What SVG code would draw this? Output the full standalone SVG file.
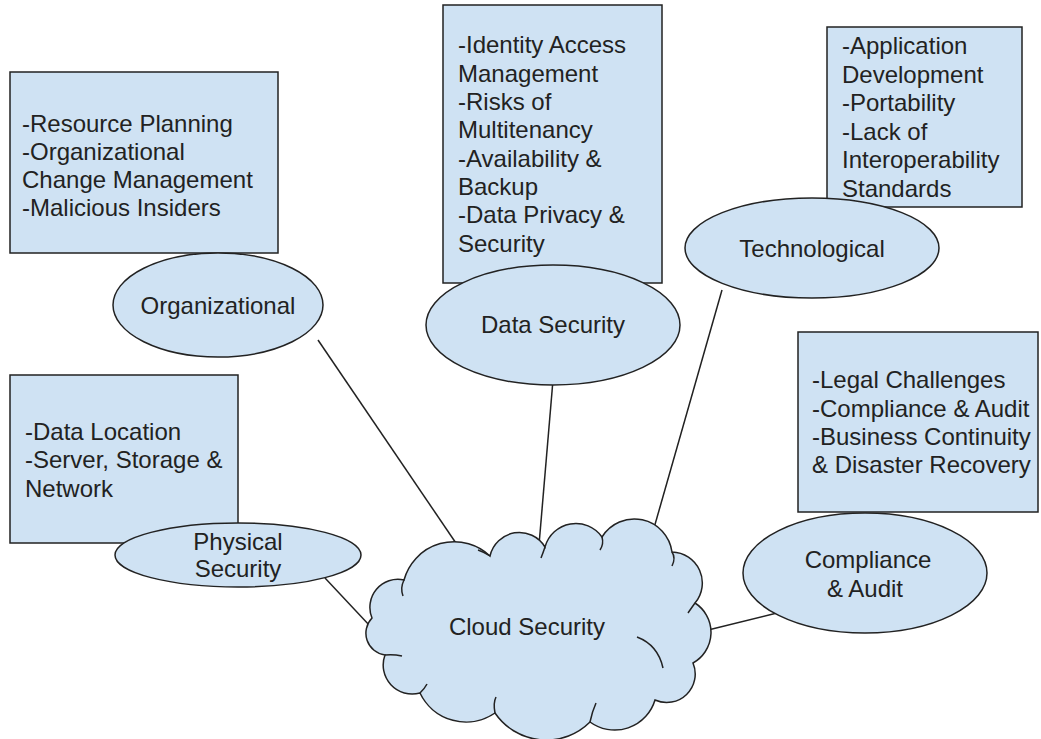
<svg xmlns="http://www.w3.org/2000/svg" width="1041" height="739" viewBox="0 0 1041 739">
<style>
.box{fill:#cfe2f3;stroke:#222;stroke-width:1.5}
.ell{fill:#cfe2f3;stroke:#222;stroke-width:1.5}
.t{font-family:"Liberation Sans",Arial,sans-serif;font-size:24px;fill:#222}
.c{text-anchor:middle}
.ln{stroke:#222;stroke-width:1.5;fill:none}
</style>
<rect width="1041" height="739" fill="#ffffff"/>
<g id="connectors">
<line class="ln" x1="318" y1="340" x2="462" y2="552"/>
<line class="ln" x1="553" y1="380" x2="539" y2="545"/>
<line class="ln" x1="722" y1="290" x2="652" y2="535"/>
<line class="ln" x1="325" y1="578" x2="385" y2="642"/>
<line class="ln" x1="777" y1="613" x2="700" y2="632"/>
</g>
<g id="organizational">
<rect class="box" x="10" y="72" width="268" height="181"/>
<text class="t" x="22" y="132">-Resource Planning</text>
<text class="t" x="22" y="160">-Organizational</text>
<text class="t" x="22" y="188">Change Management</text>
<text class="t" x="22" y="216">-Malicious Insiders</text>
<ellipse class="ell" cx="218" cy="305" rx="105" ry="52"/>
<text class="t c" x="218" y="314">Organizational</text>
</g>
<g id="data-security">
<rect class="box" x="443" y="5" width="219" height="278"/>
<text class="t" x="458" y="53">-Identity Access</text>
<text class="t" x="458" y="82">Management</text>
<text class="t" x="458" y="110">-Risks of</text>
<text class="t" x="458" y="138">Multitenancy</text>
<text class="t" x="458" y="167">-Availability &amp;</text>
<text class="t" x="458" y="195">Backup</text>
<text class="t" x="458" y="223">-Data Privacy &amp;</text>
<text class="t" x="458" y="252">Security</text>
<ellipse class="ell" cx="553" cy="325" rx="127" ry="60"/>
<text class="t c" x="553" y="333">Data Security</text>
</g>
<g id="technological">
<rect class="box" x="827" y="27" width="195" height="180"/>
<text class="t" x="842" y="54">-Application</text>
<text class="t" x="842" y="83">Development</text>
<text class="t" x="842" y="111">-Portability</text>
<text class="t" x="842" y="140">-Lack of</text>
<text class="t" x="842" y="168">Interoperability</text>
<text class="t" x="842" y="197">Standards</text>
<ellipse class="ell" cx="812" cy="248" rx="127" ry="50"/>
<text class="t c" x="812" y="257">Technological</text>
</g>
<g id="physical-security">
<rect class="box" x="10" y="375" width="228" height="168"/>
<text class="t" x="25" y="440">-Data Location</text>
<text class="t" x="25" y="468">-Server, Storage &amp;</text>
<text class="t" x="25" y="497">Network</text>
<ellipse class="ell" cx="238" cy="555" rx="123" ry="32"/>
<text class="t c" x="238" y="550">Physical</text>
<text class="t c" x="238" y="577">Security</text>
</g>
<g id="compliance-audit">
<rect class="box" x="798" y="332" width="240" height="180"/>
<text class="t" x="812" y="388">-Legal Challenges</text>
<text class="t" x="812" y="417">-Compliance &amp; Audit</text>
<text class="t" x="812" y="445">-Business Continuity</text>
<text class="t" x="812" y="473">&amp; Disaster Recovery</text>
<ellipse class="ell" cx="865" cy="573" rx="122" ry="60"/>
<text class="t c" x="868" y="568">Compliance</text>
<text class="t c" x="865" y="597">&amp; Audit</text>
</g>
<g id="cloud-security">
<path class="ell" d="M372,618 A28,28 0 0 1 404,580 A52,52 0 0 1 490,556 A30,30 0 0 1 545,547 A32,32 0 0 1 602,537 A38,38 0 0 1 672,552 A31,31 0 0 1 695,603 A35,35 0 0 1 693,663 A28.5,28.5 0 0 1 655,700 A42,42 0 0 1 590,722 A62,62 0 0 1 495,713 A51,51 0 0 1 420,693 A29,29 0 0 1 385,655 A22,22 0 0 1 372,618 Z"/>
<path class="ln" d="M404,580 Q400,588 403,596"/>
<path class="ln" d="M490,556 Q484,552 478,550"/>
<path class="ln" d="M545,547 Q543,553 541,558"/>
<path class="ln" d="M602,537 Q604,544 600,550"/>
<path class="ln" d="M672,552 Q676,558 672,566"/>
<path class="ln" d="M695,603 Q690,610 688,613"/>
<path class="ln" d="M637,637 Q658,645 663,668"/>
<path class="ln" d="M590,722 Q592,712 596,703"/>
<path class="ln" d="M495,713 Q493,703 496,697"/>
<path class="ln" d="M420,693 Q425,688 427,684"/>
<path class="ln" d="M385,655 Q393,654 402,656"/>
<text class="t c" x="527" y="635">Cloud Security</text>
</g>
</svg>
